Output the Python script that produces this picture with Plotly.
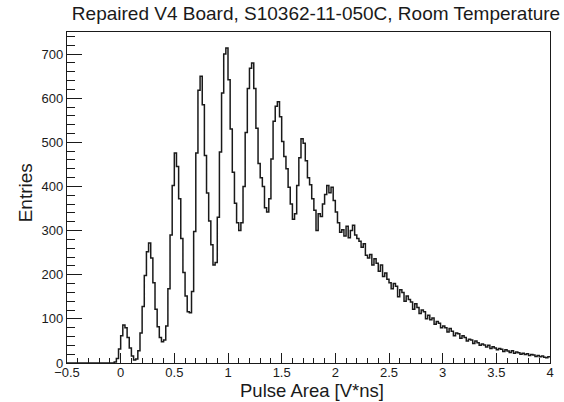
import numpy as np
import plotly.graph_objects as go

# Histogram settings (bins of 0.02 V*ns starting at -0.5)
X_MIN = -0.5
BIN_WIDTH = 0.02

# Entries per bin
entries = [
    # -0.49 .. -0.07
    0, 0, 0, 0, 0, 0, 0, 0, 0, 0, 0, 0, 0, 0, 0, 0, 0, 0, 0, 0, 0, 0,
    # -0.05 .. 0.49
    2, 10, 32, 62, 86, 80, 58, 34, 16, 7, 9, 28, 68, 128, 198, 252, 272, 238,
    182, 122, 82, 58, 48, 52, 84, 168, 290, 402,
    # 0.51 .. 0.99
    476, 445, 372, 282, 205, 152, 116, 114, 162, 298, 476, 618, 650, 585, 470,
    385, 322, 268, 222, 228, 330, 478, 612, 700, 714,
    # 1.01 .. 1.49
    642, 530, 432, 362, 318, 300, 318, 400, 522, 622, 668, 680, 622, 532, 452,
    420, 400, 352, 342, 372, 462, 548, 582, 592, 558,
    # 1.51 .. 1.99
    502, 468, 440, 398, 360, 326, 338, 402, 465, 508, 498, 458, 420, 404, 372,
    346, 300, 338, 332, 360, 382, 402, 386, 398, 368,
    # 2.01 .. 2.49
    342, 318, 296, 302, 288, 310, 284, 300, 312, 290, 282, 276, 262, 270, 244,
    238, 246, 222, 236, 226, 208, 222, 196, 204, 190,
    # 2.51 .. 2.99
    182, 168, 180, 174, 150, 166, 160, 140, 152, 144, 138, 122, 134, 126, 112,
    120, 116, 100, 108, 98, 102, 88, 94, 90, 80,
    # 3.01 .. 3.49
    84, 80, 70, 78, 72, 62, 68, 66, 56, 62, 58, 50, 54, 52, 44,
    50, 46, 40, 43, 41, 36, 40, 33, 37, 34,
    # 3.51 .. 3.99
    30, 33, 31, 26, 30, 27, 24, 28, 22, 25, 23, 20, 22, 19, 21,
    17, 19, 18, 15, 17, 14, 16, 13, 12, 14,
]

title_text = "Repaired V4 Board, S10362-11-050C, Room Temperature"
x_title = "Pulse Area [V*ns]"
y_title = "Entries"
x_range = [-0.5, 4.0]
y_range = [0, 750]

edges = X_MIN + BIN_WIDTH * np.arange(len(entries) + 1)
y_step = list(entries) + [entries[-1]]

FONT = "Liberation Sans, Arial, Helvetica, sans-serif"
INK = "#1a1a1a"

W, H = 564, 402
ML, MR, MT, MB = 67, 10, 32, 39
PW, PH = W - ML - MR, H - MT - MB

fig = go.Figure()
fig.add_trace(go.Scatter(
    x=edges, y=y_step, mode="lines", line_shape="hv",
    line=dict(color=INK, width=1.5), hoverinfo="skip", showlegend=False,
))

fig.update_layout(
    width=W, height=H,
    margin=dict(l=ML, r=MR, t=MT, b=MB),
    paper_bgcolor="white", plot_bgcolor="white",
    font=dict(family=FONT, color=INK, size=13),
    title=dict(text=title_text, font=dict(size=19, family=FONT, color=INK),
               x=316 / W, xref="container", xanchor="center",
               y=1 - 13 / H, yref="container", yanchor="middle"),
    annotations=[
        dict(text=x_title, xref="paper", yref="paper",
             x=(314 - ML) / PW, y=-(390 - (H - MB)) / PH,
             xanchor="center", yanchor="middle", showarrow=False,
             font=dict(size=18.5, family=FONT, color=INK)),
        dict(text=y_title, xref="paper", yref="paper",
             x=(26 - ML) / PW, y=((H - MB) - 193) / PH,
             xanchor="center", yanchor="middle", showarrow=False, textangle=-90,
             font=dict(size=19, family=FONT, color=INK)),
    ],
)

fig.update_xaxes(
    range=x_range, showgrid=False, zeroline=False,
    showline=True, linecolor=INK, linewidth=1.2, mirror=True,
    ticks="inside", ticklen=10, tickwidth=1, tickcolor=INK,
    dtick=0.5, tick0=0,
    minor=dict(ticks="inside", ticklen=5, dtick=0.1, tick0=0, tickcolor=INK, showgrid=False),
    tickfont=dict(size=13, family=FONT, color=INK),
    ticklabelstandoff=-3,
)
fig.update_yaxes(
    range=y_range, showgrid=False, zeroline=False,
    showline=True, linecolor=INK, linewidth=1.2, mirror=True,
    ticks="inside", ticklen=15, tickwidth=1, tickcolor=INK,
    dtick=100, tick0=0,
    minor=dict(ticks="inside", ticklen=8, dtick=20, tick0=0, tickcolor=INK, showgrid=False),
    tickfont=dict(size=13, family=FONT, color=INK),
)

fig.write_html("out.html", config={"displayModeBar": False},
               post_script="document.body.style.margin='0';")
